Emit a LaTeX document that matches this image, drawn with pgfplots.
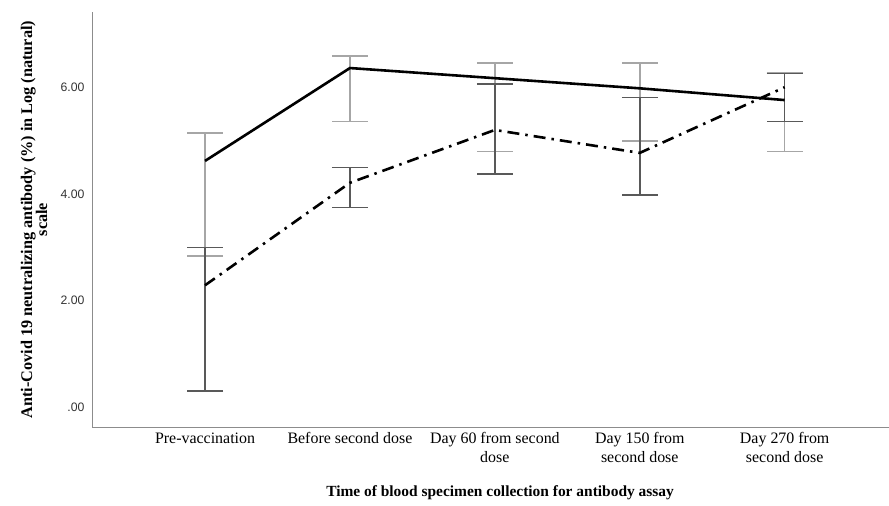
\documentclass[border=0pt]{standalone}
\usepackage{pgfplots}
\pgfplotsset{compat=1.18}
\usepackage{fontspec}
\setmainfont{Liberation Serif}
\newfontfamily\arial{Liberation Sans}
\definecolor{lightbar}{HTML}{A6A6A6}
\definecolor{darkbar}{HTML}{595959}
\definecolor{axisgray}{HTML}{8C8C8C}
\begin{document}
\begin{tikzpicture}
\begin{axis}[
  name=ax,
  scale only axis,
  width=797bp, height=415bp,
  xmin=-0.78, xmax=4.72,
  ymin=-0.365, ymax=7.41,
  axis lines=left,
  axis line style={axisgray, line width=1bp, -},
  major tick length=0pt,
  xtick={0,1,2,3,4},
  xticklabels={Pre-vaccination, Before second dose, Day 60 from second\\dose, Day 150 from\\second dose, Day 270 from\\second dose},
  xticklabel style={font=\fontsize{16}{19}\selectfont, align=center, text=black, yshift=-2bp},
  ytick={0,2,4,6},
  yticklabels={.00,2.00,4.00,6.00},
  yticklabel style={font=\arial\fontsize{12.3}{14}\selectfont, text=black!80, xshift=-4bp},
  xlabel={\textbf{Time of blood specimen collection for antibody assay}},
  xlabel style={font=\fontsize{15.5}{18}\selectfont, at={(rel axis cs:0.512,0)}, anchor=center, yshift=-66bp},
  ylabel={\textbf{Anti-Covid 19 neutralizing antibody (\%) in Log (natural)}\\\textbf{scale}},
  ylabel style={font=\fontsize{16.3}{15}\selectfont, align=center, at={(rel axis cs:0,0.5)}, anchor=center, yshift=58bp},
  clip=false,
]
% Group 1 error bars (light)
\addplot[draw=none, mark=none, forget plot,
  error bars/.cd, y dir=both, y explicit,
  error bar style={draw=lightbar, line width=1.6bp},
  error mark options={draw=lightbar, line width=1.6bp, mark size=18bp, rotate=90}]
  table[x=x, y=y, y error plus expr=\thisrow{hi}-\thisrow{y}, y error minus expr=\thisrow{y}-\thisrow{lo}] {
x y lo hi
0 4.62 2.84 5.14
1 6.36 5.36 6.58
2 6.17 4.80 6.45
3 5.98 4.99 6.45
4 5.76 4.80 6.28
};
% Group 2 error bars (dark)
\addplot[draw=none, mark=none, forget plot,
  error bars/.cd, y dir=both, y explicit,
  error bar style={draw=darkbar, line width=1.6bp},
  error mark options={draw=darkbar, line width=1.6bp, mark size=18bp, rotate=90}]
  table[x=x, y=y, y error plus expr=\thisrow{hi}-\thisrow{y}, y error minus expr=\thisrow{y}-\thisrow{lo}] {
x y lo hi
0 2.29 0.31 3.00
1 4.21 3.75 4.50
2 5.20 4.37 6.06
3 4.77 3.98 5.81
4 6.00 5.36 6.26
};
% Group 1 line (solid)
\addplot[black, line width=2.6bp, mark=none] table {
x y
0 4.62
1 6.36
2 6.17
3 5.98
4 5.76
};
% Group 2 line (dash-dot)
\addplot[black, line width=2.6bp, mark=none, dash pattern=on 12bp off 6bp on 2.5bp off 6bp] table {
x y
0 2.29
1 4.21
2 5.20
3 4.77
4 6.00
};
\end{axis}
\pgfresetboundingbox
\path[use as bounding box] ([xshift=-92bp, yshift=-78bp]ax.south west) rectangle ([yshift=12bp]ax.north east);
\end{tikzpicture}
\end{document}
